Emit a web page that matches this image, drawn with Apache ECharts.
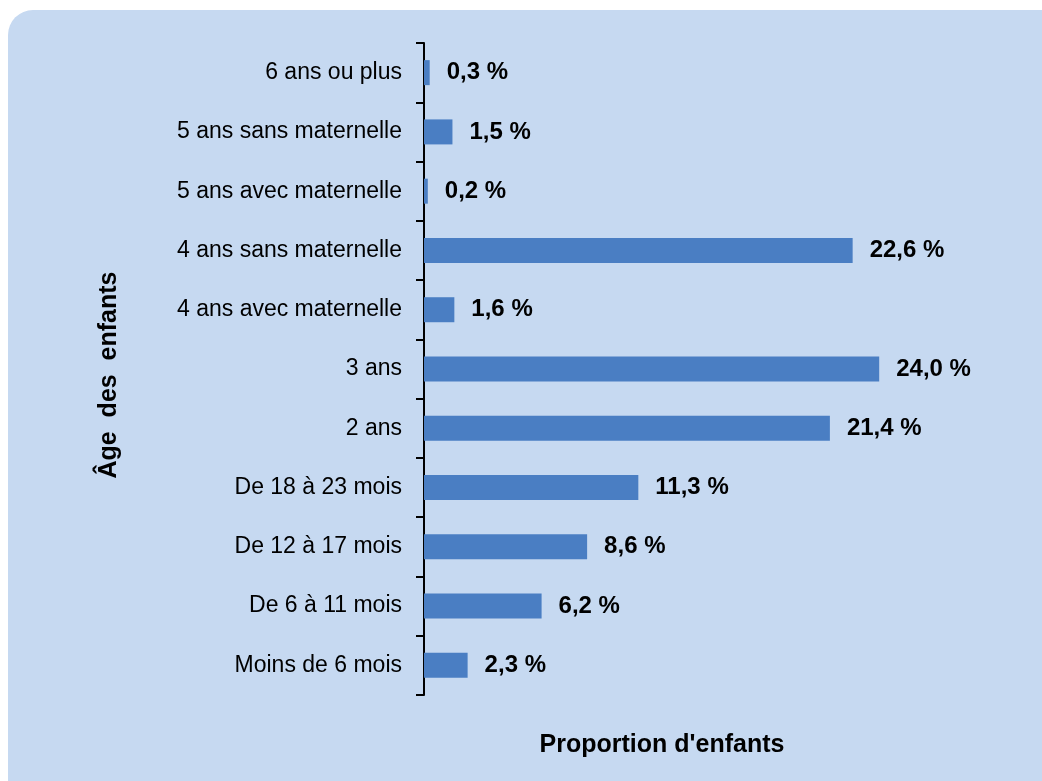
<!DOCTYPE html>
<html>
<head>
<meta charset="utf-8">
<script src="https://cdn.jsdelivr.net/npm/echarts@6/dist/echarts.min.js"></script>
<style>
  html, body { margin: 0; padding: 0; background: #ffffff; }
  #chart { width: 1042px; height: 781px; }
</style>
</head>
<body>
<div id="chart"></div>
<script>
const categories = [
  'Moins de 6 mois',
  'De 6 à 11 mois',
  'De 12 à 17 mois',
  'De 18 à 23 mois',
  '2 ans',
  '3 ans',
  '4 ans avec maternelle',
  '4 ans sans maternelle',
  '5 ans avec maternelle',
  '5 ans sans maternelle',
  '6 ans ou plus'
];
const values = [2.3, 6.2, 8.6, 11.3, 21.4, 24.0, 1.6, 22.6, 0.2, 1.5, 0.3];
const yAxisTitle = 'Âge  des  enfants';
const xAxisTitle = "Proportion d'enfants";

const chart = echarts.init(document.getElementById('chart'), null, { renderer: 'canvas' });
const font = '"Liberation Sans", Arial, sans-serif';

chart.setOption({
  backgroundColor: '#ffffff',
  animation: false,
  graphic: [
    {
      type: 'rect',
      z: -100,
      silent: true,
      shape: { x: 8, y: 10, width: 1100, height: 850, r: 25 },
      style: { fill: '#C6D9F1' }
    },
    {
      type: 'text',
      z: 10,
      x: 662,
      y: 745,
      style: {
        text: xAxisTitle,
        fill: '#000000',
        font: 'bold 25px ' + font,
        textAlign: 'center',
        textVerticalAlign: 'middle'
      }
    },
    {
      type: 'text',
      z: 10,
      x: 109,
      y: 375,
      rotation: Math.PI / 2,
      style: {
        text: yAxisTitle,
        fill: '#000000',
        font: 'bold 25px ' + font,
        textAlign: 'center',
        textVerticalAlign: 'middle'
      }
    }
  ],
  grid: { left: 424, top: 43, width: 569, height: 652, containLabel: false },
  xAxis: {
    type: 'value',
    min: 0,
    max: 30,
    show: false
  },
  yAxis: {
    type: 'category',
    data: categories,
    axisLine: { show: true, lineStyle: { color: '#000000', width: 2 } },
    axisTick: { show: true, length: 8, lineStyle: { color: '#000000', width: 2 } },
    axisLabel: { margin: 22, fontFamily: font, fontSize: 23, color: '#000000' },
    splitLine: { show: false }
  },
  series: [{
    type: 'bar',
    data: values,
    barWidth: 25,
    itemStyle: { color: '#4A7EC3' },
    label: {
      show: true,
      position: 'right',
      distance: 17,
      fontFamily: font,
      fontSize: 24,
      fontWeight: 'bold',
      color: '#000000',
      formatter: p => p.value.toFixed(1).replace('.', ',') + ' %'
    }
  }]
});
</script>
</body>
</html>
